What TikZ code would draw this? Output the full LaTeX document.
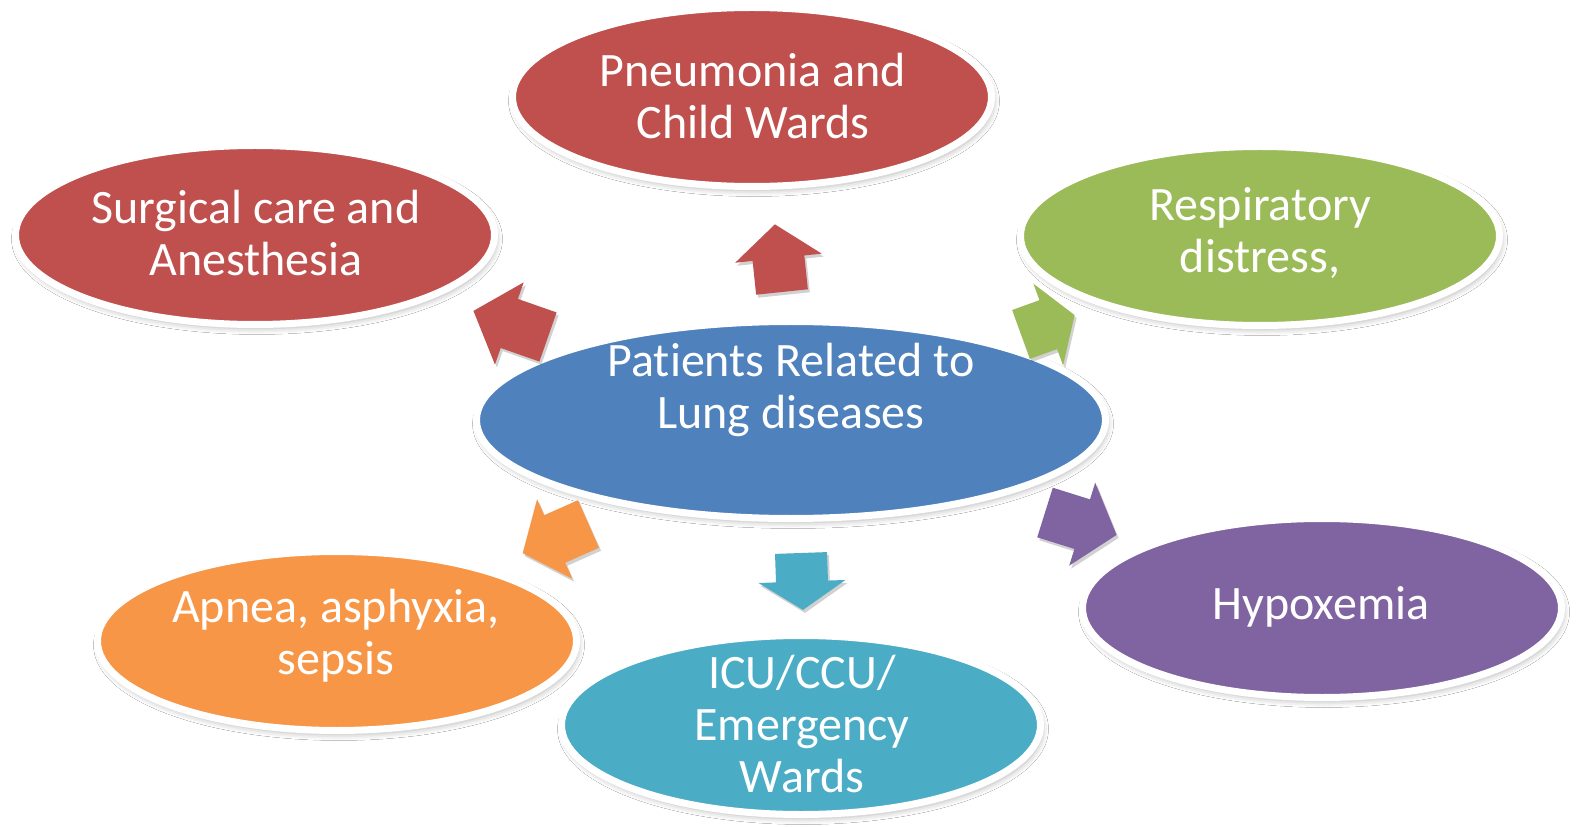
\documentclass[tikz,border=0pt]{standalone}
\usepackage{fontspec}
\setmainfont{Carlito}[Ligatures={NoCommon,NoContextual,NoRequired}]
\usetikzlibrary{shapes.geometric,shadows.blur}
\definecolor{cred}{HTML}{C0504D}
\definecolor{cgreen}{HTML}{9BBB59}
\definecolor{cblue}{HTML}{4F81BD}
\definecolor{cpurple}{HTML}{8064A2}
\definecolor{cteal}{HTML}{4BACC6}
\definecolor{corange}{HTML}{F79646}
\tikzset{
  bubble/.style={ellipse, draw=white, line width=3.5pt, inner sep=0pt,
    minimum width=239.5pt, minimum height=89.5pt,
    blur shadow={shadow xshift=1pt, shadow yshift=-2pt, shadow blur radius=3pt, shadow opacity=30}},
  bigbubble/.style={bubble, minimum width=314.5pt, minimum height=98.5pt},
  label/.style={text=white, align=center, inner sep=0pt,
    font=\fontsize{24}{26}\selectfont},
  arrshadow/.style={fill=black, opacity=0.18}
}
\newcommand{\blockarr}[6]{%
  \begin{scope}[shift={(#1+2,#2-3)}, rotate=#3]
    \fill[arrshadow] (0,-26) -- ({#4-#5},-26) -- ({#4-#5},-43.5) -- (#4,0) -- ({#4-#5},43.5) -- ({#4-#5},26) -- (0,26) -- cycle;
  \end{scope}
  \begin{scope}[shift={(#1,#2)}, rotate=#3]
    \fill[#6] (0,-26) -- ({#4-#5},-26) -- ({#4-#5},-43.5) -- (#4,0) -- ({#4-#5},43.5) -- ({#4-#5},26) -- (0,26) -- cycle;
  \end{scope}}
\begin{document}
\begin{tikzpicture}[x=0.5pt, y=0.5pt]
  \fill[white] (0,0) rectangle (1580,826);
  % ellipses
  \node[bubble, fill=cred]    (pneu) at (752,729) {};
  \node[bubble, fill=cred]    (surg) at (255,591) {};
  \node[bubble, fill=cgreen]  (resp) at (1260,590) {};
  \node[bigbubble, fill=cblue] (center) at (791,406) {};
  \node[bubble, fill=corange] (apnea) at (337,185) {};
  \node[bubble, fill=cteal]   (icu)  at (801,101) {};
  \node[bubble, fill=cpurple] (hypo) at (1322,218) {};
  % texts
  \node[label] (tpneu) at (753,730) {Pneumonia and\\Child Wards};
  \node[label] (tsurg) at (256,593) {Surgical care and\\Anesthesia};
  \node[label] (tresp) at (1260,593) {Respiratory\\distress,};
  \node[label] (tcenter) at (791,436) {Patients Related to\\Lung diseases};
  \node[label] (tapnea) at (336,190) {Apnea, asphyxia,\\sepsis};
  \node[label] (ticu) at (802,102) {ICU/CCU/\\Emergency\\Wards};
  \node[label] (thypo) at (1321,219) {Hypoxemia};
  % block arrows: shaft-end midpoint, angle, length, head length, colour
  \blockarr{782}{534}{96}{68}{34}{cred}
  \blockarr{548}{489}{160.7}{79}{38}{cred}
  \blockarr{1021}{491.5}{19.9}{57}{28}{cgreen}
  \blockarr{1045}{313.5}{-17.4}{75}{36}{cpurple}
  \blockarr{801}{273}{-88}{57}{28.5}{cteal}
  \blockarr{588.5}{302}{203.9}{72}{35}{corange}
  \pgfresetboundingbox
  \useasboundingbox (0,0) rectangle (1580,826);
\end{tikzpicture}
\end{document}
